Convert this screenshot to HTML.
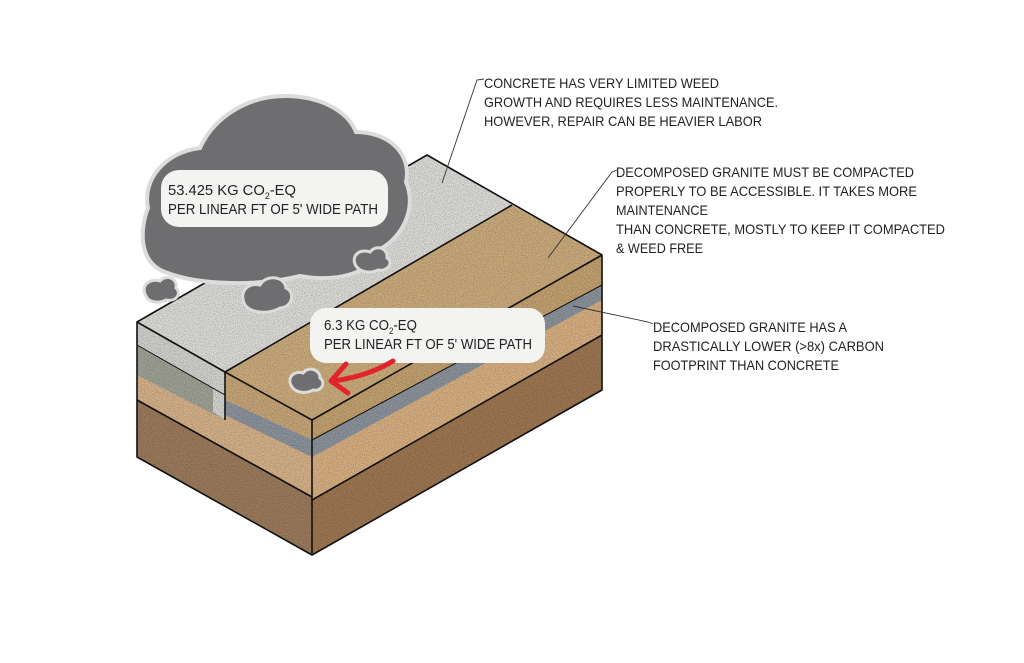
<!DOCTYPE html>
<html><head><meta charset="utf-8"><style>
html,body{margin:0;padding:0;background:#fff;}
svg{display:block;}
text{font-family:"Liberation Sans Narrow","Liberation Sans",sans-serif;fill:#222;}
</style></head><body>
<svg width="1024" height="663" viewBox="0 0 1024 663" xmlns="http://www.w3.org/2000/svg">
<defs>
<filter id="n" x="0" y="0" width="100%" height="100%">
<feTurbulence type="fractalNoise" baseFrequency="0.9" numOctaves="2" seed="3" result="t"/>
<feColorMatrix in="t" type="matrix" values="0 0 0 0 0.2  0 0 0 0 0.15  0 0 0 0 0.1  0 0 0 -1.2 0.75" result="a"/>
<feComposite in="a" in2="SourceGraphic" operator="in" result="b"/>
<feBlend in="SourceGraphic" in2="b" mode="multiply"/>
</filter>
</defs>
<rect width="1024" height="663" fill="#fff"/>

<g filter="url(#n)">
<!-- left face -->
<polygon points="137,322 312,420 312,555 137,457" fill="#9a7a5c"/>
<polygon points="137,322 312,420 312,497 137,400" fill="#d3b089"/>
<polygon points="137,345 225,395 225,420 137,375" fill="#9da195"/>
<polygon points="225,400 312,440 312,457 225,415" fill="#8a929c"/>
<polygon points="137,322 225,372 225,395 137,345" fill="#cfcfcd"/>
<polygon points="225,372 312,420 312,440 225,400" fill="#c4a479"/>
<polygon points="213,366 225,372 225,420 213,412" fill="#d2d2d0"/>
<!-- right face -->
<polygon points="312,420 602,255 602,390 312,555" fill="#9c7652"/>
<polygon points="312,420 602,255 602,335 312,500" fill="#d5ae82"/>
<polygon points="312,440 602,285 602,300 312,457" fill="#8a929c"/>
<polygon points="312,420 602,255 602,285 312,440" fill="#c1a070"/>
<!-- top surfaces -->
<polygon points="137,322 427,155 512,205 225,372" fill="#dadad8"/>
<polygon points="225,372 512,205 602,255 312,420" fill="#c9aa7c"/>
</g>
<!-- outlines -->
<g fill="none" stroke="#111" stroke-width="1.6" stroke-linejoin="round">
<polygon points="137,322 427,155 602,255 602,390 312,555 137,457"/>
<line x1="312" y1="420" x2="312" y2="555"/>
<line x1="312" y1="420" x2="602" y2="255"/>
<line x1="225" y1="372" x2="312" y2="420"/>
<line x1="137" y1="322" x2="225" y2="372"/>
<line x1="225" y1="372" x2="512" y2="205"/>
<line x1="225" y1="372" x2="225" y2="420"/>
<line x1="137" y1="400" x2="312" y2="497"/>
<line x1="312" y1="500" x2="602" y2="335"/>
<line x1="312" y1="440" x2="602" y2="285" stroke-width="1"/>
<line x1="137" y1="345" x2="225" y2="395" stroke-width="1"/>
</g>

<!-- leader lines -->
<g fill="none" stroke="#333" stroke-width="0.9">
<polyline points="484,79 477,80 442,183"/>
<polyline points="617,170 612,172 548,258"/>
<polyline points="653,324 648,322 573,306"/>
</g>

<!-- big cloud -->
<path d="M165,272 C138,262 140,228 148,208 C142,180 165,152 200,148 C215,115 250,96 285,96 C322,96 348,112 356,132 C390,132 412,155 406,182 C418,210 400,240 378,250 C372,276 330,282 300,276 C260,286 200,286 165,272 Z" fill="#6e6e70" stroke="#dcdcdc" stroke-width="4"/>
<rect x="161" y="170" width="227" height="57" rx="18" fill="#f3f3f1"/>
<!-- small clouds -->
<g fill="#6e6e70" stroke="#dcdcdc" stroke-width="3">
<path d="M146,296 C140,285 150,278 160,281 C166,274 178,278 176,288 C182,294 176,302 166,300 C158,304 148,302 146,296 Z"/>
<path d="M245,305 C238,292 248,282 260,285 C266,274 285,276 286,288 C296,292 292,308 280,308 C270,314 252,314 245,305 Z"/>
<path d="M356,266 C350,256 360,248 370,252 C376,244 388,248 387,258 C394,262 388,272 378,270 C370,274 360,272 356,266 Z"/>
<path d="M292,387 C286,378 294,370 303,373 C308,366 320,369 320,378 C326,382 322,392 313,390 C306,394 296,393 292,387 Z"/>
</g>
<rect x="310" y="308" width="235" height="55" rx="16" fill="#f3f3f1"/>

<!-- red arrow -->
<g fill="none" stroke="#e1232b" stroke-width="5" stroke-linecap="round" stroke-linejoin="round">
<path d="M393,361 C375,372 355,378 333,381"/>
<polyline points="346,364 331,381 348,393"/>
</g>

<!-- cloud texts -->
<text x="168" y="195" font-size="15" textLength="128" lengthAdjust="spacingAndGlyphs">53.425 KG CO<tspan font-size="9" dy="4">2</tspan><tspan dy="-4">-EQ</tspan></text>
<text x="168" y="214" font-size="15" textLength="210" lengthAdjust="spacingAndGlyphs">PER LINEAR FT OF 5' WIDE PATH</text>
<text x="324" y="330" font-size="15" textLength="93" lengthAdjust="spacingAndGlyphs">6.3 KG CO<tspan font-size="9" dy="4">2</tspan><tspan dy="-4">-EQ</tspan></text>
<text x="324" y="349" font-size="15" textLength="208" lengthAdjust="spacingAndGlyphs">PER LINEAR FT OF 5' WIDE PATH</text>

<!-- annotations -->
<g font-size="14">
<text x="484" y="88" textLength="235" lengthAdjust="spacingAndGlyphs">CONCRETE HAS VERY LIMITED WEED</text>
<text x="484" y="107" textLength="294" lengthAdjust="spacingAndGlyphs">GROWTH AND REQUIRES LESS MAINTENANCE.</text>
<text x="484" y="126" textLength="278" lengthAdjust="spacingAndGlyphs">HOWEVER, REPAIR CAN BE HEAVIER LABOR</text>
<text x="616" y="177" textLength="298" lengthAdjust="spacingAndGlyphs">DECOMPOSED GRANITE MUST BE COMPACTED</text>
<text x="616" y="196" textLength="301" lengthAdjust="spacingAndGlyphs">PROPERLY TO BE ACCESSIBLE. IT TAKES MORE</text>
<text x="616" y="215" textLength="92" lengthAdjust="spacingAndGlyphs">MAINTENANCE</text>
<text x="616" y="234" textLength="329" lengthAdjust="spacingAndGlyphs">THAN CONCRETE, MOSTLY TO KEEP IT COMPACTED</text>
<text x="616" y="253" textLength="87" lengthAdjust="spacingAndGlyphs">&amp; WEED FREE</text>
<text x="653" y="332" textLength="194" lengthAdjust="spacingAndGlyphs">DECOMPOSED GRANITE HAS A</text>
<text x="653" y="351" textLength="231" lengthAdjust="spacingAndGlyphs">DRASTICALLY LOWER (&gt;8x)  CARBON</text>
<text x="653" y="370" textLength="186" lengthAdjust="spacingAndGlyphs">FOOTPRINT THAN CONCRETE</text>
</g>
</svg>
</body></html>
